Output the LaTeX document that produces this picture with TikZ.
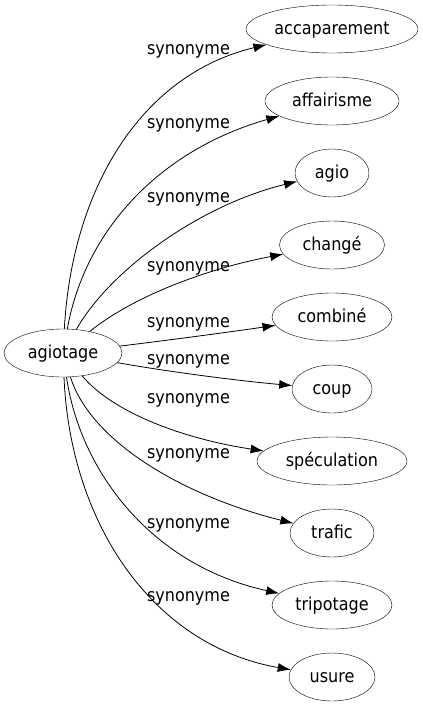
\documentclass[tikz,border=0pt]{standalone}
\usepackage{fontspec}
\setmainfont{DejaVu Sans Condensed}
\usetikzlibrary{arrows.meta,shapes.geometric}
\begin{document}
\begin{tikzpicture}[x=1pt,y=-1pt,
  word/.style={draw,ellipse,inner sep=0pt,minimum height=48pt,text height=14pt,text depth=4pt,font=\fontsize{17.8}{20}\selectfont},
  rel/.style={anchor=base,font=\fontsize{17.8}{20}\selectfont,inner sep=0pt},
  syn/.style={-{Latex[length=13pt,width=9pt]},line width=0.8pt}]
\useasboundingbox (0,0) rectangle (423,707);
\node[word,minimum width=118pt] (ag) at (63,353) {agiotage};
\node[word,minimum width=172pt] (n1) at (332,29) {accaparement};
\node[word,minimum width=134pt] (n2) at (332,101) {affairisme};
\node[word,minimum width=74pt] (n3) at (332,173) {agio};
\node[word,minimum width=105pt] (n4) at (332,245) {changé};
\node[word,minimum width=120pt] (n5) at (332,317) {combiné};
\node[word,minimum width=80pt] (n6) at (332,389) {coup};
\node[word,minimum width=150pt] (n7) at (332,461) {spéculation};
\node[word,minimum width=84pt] (n8) at (332,533) {trafic};
\node[word,minimum width=120pt] (n9) at (332,605) {tripotage};
\node[word,minimum width=86pt] (n10) at (332,677) {usure};
\draw[syn] (ag) .. controls (72,190) and (140,75) .. (n1);
\draw[syn] (ag) .. controls (85,230) and (160,150) .. (n2);
\draw[syn] (ag) .. controls (110,270) and (200,205) .. (n3);
\draw[syn] (ag) .. controls (135,295) and (210,268) .. (n4);
\draw[syn] (ag) .. controls (170,340) and (230,332) .. (n5);
\draw[syn] (ag) .. controls (170,372) and (240,381) .. (n6);
\draw[syn] (ag) .. controls (115,415) and (190,440) .. (n7);
\draw[syn] (ag) .. controls (90,440) and (180,495) .. (n8);
\draw[syn] (ag) .. controls (80,470) and (150,565) .. (n9);
\draw[syn] (ag) .. controls (70,520) and (150,645) .. (n10);
\node[rel] (l1) at (188.5,54.5) {synonyme};
\node[rel] (l2) at (188.5,128) {synonyme};
\node[rel] (l3) at (188.5,202) {synonyme};
\node[rel] (l4) at (188.5,271) {synonyme};
\node[rel] (l5) at (188.5,327) {synonyme};
\node[rel] (l6) at (188.5,364) {synonyme};
\node[rel] (l7) at (188.5,403) {synonyme};
\node[rel] (l8) at (188.5,458) {synonyme};
\node[rel] (l9) at (188.5,528) {synonyme};
\node[rel] (l10) at (188.5,601) {synonyme};
\end{tikzpicture}
\end{document}
